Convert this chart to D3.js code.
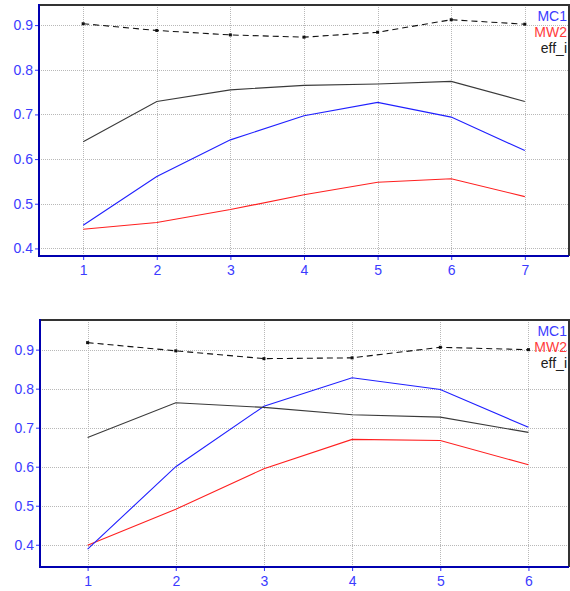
<!DOCTYPE html>
<html>
<head>
<meta charset="utf-8">
<script src="https://cdn.jsdelivr.net/npm/d3@7"></script>
<style>
  body { margin: 0; background: #fff; }
  svg { display: block; font-family: Arial, "Liberation Sans", sans-serif; }
</style>
</head>
<body>
<div id="chart"></div>
<script>
// data
const xTop = [1, 2, 3, 4, 5, 6, 7];
const mc1Top = [0.452, 0.561, 0.643, 0.697, 0.727, 0.694, 0.619];
const mw2Top = [0.443, 0.458, 0.487, 0.520, 0.548, 0.556, 0.516];
const effTop = [0.903, 0.888, 0.878, 0.873, 0.884, 0.912, 0.902];
const blackTop = [0.639, 0.729, 0.755, 0.765, 0.768, 0.774, 0.729];

const xBot = [1, 2, 3, 4, 5, 6];
const mc1Bot = [0.389, 0.600, 0.755, 0.828, 0.798, 0.701];
const mw2Bot = [0.399, 0.491, 0.595, 0.670, 0.667, 0.605];
const effBot = [0.918, 0.897, 0.877, 0.879, 0.906, 0.900];
const blackBot = [0.675, 0.764, 0.752, 0.733, 0.727, 0.688];

const yTicks = [0.4, 0.5, 0.6, 0.7, 0.8, 0.9];
const legendNames = ["MC1", "MW2", "eff_i"];
const legendColors = ["#3b3bff", "#ff3b3b", "#202020"];

const svg = d3.select('#chart').append('svg')
    .attr('width', 570)
    .attr('height', 591);

function drawPanel(cfg) {
    let x = d3.scaleLinear().domain(cfg.xDomain).range([cfg.left, cfg.right]);
    let y = d3.scaleLinear().domain(cfg.yDomain).range([cfg.bottom, cfg.top]);
    let g = svg.append('g');

    // grid
    g.append('g').selectAll('line')
        .data(yTicks)
        .enter().append('line')
        .attr('x1', cfg.left).attr('x2', cfg.right)
        .attr('y1', d => Math.round(y(d)) + 0.5).attr('y2', d => Math.round(y(d)) + 0.5)
        .style('stroke', '#b8b8b8')
        .style('stroke-dasharray', '1,1');
    g.append('g').selectAll('line')
        .data(cfg.xs)
        .enter().append('line')
        .attr('x1', d => Math.round(x(d)) + 0.5).attr('x2', d => Math.round(x(d)) + 0.5)
        .attr('y1', cfg.top).attr('y2', cfg.bottom)
        .style('stroke', '#b8b8b8')
        .style('stroke-dasharray', '1,1');

    // frame top / right
    g.append('path')
        .attr('d', `M${cfg.left},${cfg.top}H${cfg.right}V${cfg.bottom}`)
        .style('fill', 'none')
        .style('stroke', '#333')
        .style('stroke-width', 2);

    let line = d3.line()
        .x((d, i) => x(cfg.xs[i]))
        .y(d => y(d));

    let series = [
        { v: cfg.mw2, color: '#ff2020', dash: null },
        { v: cfg.mc1, color: '#2020ff', dash: null },
        { v: cfg.black, color: '#3a3a3a', dash: null },
        { v: cfg.eff, color: '#111', dash: '6,4' }
    ];
    g.append('g').selectAll('path')
        .data(series)
        .enter().append('path')
        .attr('d', d => line(d.v))
        .style('fill', 'none')
        .style('stroke', d => d.color)
        .style('stroke-width', 1.1)
        .style('stroke-dasharray', d => d.dash);

    g.append('g').selectAll('rect')
        .data(cfg.eff)
        .enter().append('rect')
        .attr('x', (d, i) => x(cfg.xs[i]) - 1.5)
        .attr('y', d => y(d) - 1.5)
        .attr('width', 3).attr('height', 3)
        .style('fill', '#111');

    // axes
    let yAxis = d3.axisLeft(y).tickValues(yTicks).tickFormat(d3.format('.1f')).tickSize(4).tickPadding(2);
    let xAxis = d3.axisBottom(x).tickValues(cfg.xs).tickFormat(d3.format('d')).tickSize(4).tickPadding(5);

    let ya = g.append('g').attr('transform', `translate(${cfg.left},0)`).call(yAxis);
    let xa = g.append('g').attr('transform', `translate(0,${cfg.bottom})`).call(xAxis);
    [ya, xa].forEach(a => {
        a.select('.domain').remove();
        a.selectAll('line').style('stroke', '#3030ff');
        a.selectAll('text').style('fill', '#3b3bff').style('font-size', '14px');
    });
    g.append('path')
        .attr('d', `M${cfg.left},${cfg.top - 1}V${cfg.bottom}H${cfg.right}`)
        .style('fill', 'none')
        .style('stroke', '#0000b0')
        .style('stroke-width', 2);

    // legend
    g.append('g').selectAll('text')
        .data(legendNames)
        .enter().append('text')
        .attr('x', 567)
        .attr('y', (d, i) => cfg.legendY + i * 16)
        .attr('text-anchor', 'end')
        .style('font-size', '14px')
        .style('fill', (d, i) => legendColors[i])
        .text(d => d);
}

drawPanel({
    xs: xTop, mc1: mc1Top, mw2: mw2Top, eff: effTop, black: blackTop,
    xDomain: [0.4, 7.6], yDomain: [0.383, 0.945],
    left: 39, right: 569, top: 5, bottom: 256, legendY: 21
});

drawPanel({
    xs: xBot, mc1: mc1Bot, mw2: mw2Bot, eff: effBot, black: blackBot,
    xDomain: [0.46, 6.46], yDomain: [0.343, 0.976],
    left: 40, right: 569, top: 320, bottom: 567, legendY: 336
});
</script>
</body>
</html>
